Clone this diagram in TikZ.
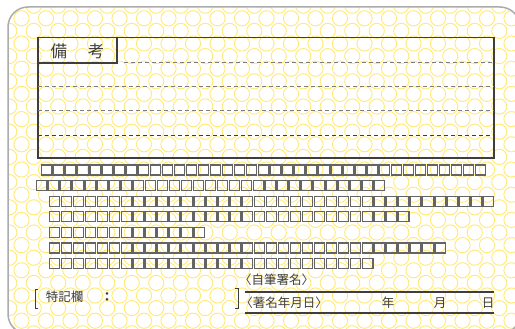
\documentclass[tikz,border=0pt]{standalone}
\usepackage{fontspec}
\usepackage{tikz}
\usetikzlibrary{positioning}
\newfontfamily\jpfont{Noto Sans CJK JP}
\definecolor{ringyellow}{RGB}{255,234,120}
\definecolor{cardgray}{RGB}{172,172,172}
\definecolor{inkgray}{RGB}{62,62,62}
\definecolor{dashgray}{RGB}{125,125,125}
\definecolor{cellgray}{RGB}{100,100,100}

\begin{document}
\begin{tikzpicture}[x=1pt,y=-1pt]
  \tikzstyle{ring}=[draw=ringyellow,line width=0.9pt]
  \tikzstyle{frame}=[draw=inkgray,line width=1.2pt]
  \tikzstyle{dashline}=[draw=dashgray,line width=0.9pt,dash pattern=on 4pt off 3pt]
  \tikzstyle{cell}=[draw=cellgray,line width=1.25pt]
  \tikzstyle{signline}=[draw=inkgray,line width=1.8pt]
  \tikzstyle{txt}=[inner sep=0pt,text=inkgray,font=\jpfont\fontsize{12.5}{14}\selectfont]

  \useasboundingbox (0,0) rectangle (515,329);
  \fill[white] (0,0) rectangle (515,329);

  % card with ring pattern
  \begin{scope}
    \clip[rounded corners=20pt] (8,7) rectangle (520,334);
    \foreach \k in {-1,...,26}
      \foreach \j in {0,...,22}
        \draw[ring] ({-3+12.25*mod(\k+2,2)+24.5*\j},{18.3+12.6*\k}) circle (7.6);
  \end{scope}
  \draw[draw=cardgray,line width=1.5pt,rounded corners=20pt] (8,7) rectangle (520,334);

  % remarks box
  \coordinate (boxnw) at (38,37.5);
  \coordinate (boxse) at (494,158);
  \coordinate (tabse) at (117,63);
  \draw[frame] (boxnw) rectangle (boxse);
  \draw[frame] (boxnw) rectangle (tabse);
  \node[txt,font=\jpfont\fontsize{16.5}{18}\selectfont] (bikou) at (77.5,51.5) {備\hspace{21pt}考};
  \draw[dashline] (124,62.3) -- (494,62.3);
  \draw[dashline] (38,86.7) -- (494,86.7);
  \draw[dashline] (38,110.7) -- (494,110.7);
  \draw[dashline,draw=inkgray] (38,135.7) -- (494,135.7);

  % rows of empty cells
  \foreach \n/\xs [count=\r from 0] in {37/41.7,29/36.7,37/49.3,30/49.3,13/49.3,33/49.3,27/49.3}
    \foreach \i in {1,...,\n}
      \draw[cell] ({\xs+12.05*(\i-1)},{165+15.6*\r}) rectangle ++(10.3,10);

  % special notes
  \draw[inkgray,line width=1pt] (38,289) -- (35,289) -- (35,308) -- (38,308);
  \node[txt] (tokki) at (64.5,297) {特記欄};
  \node[txt,font=\jpfont\bfseries\fontsize{12.5}{14}\selectfont] (colon) at (107,297) {：};
  \draw[inkgray,line width=1pt] (235,288) -- (238,288) -- (238,308) -- (235,308);

  % signature
  \node[txt] (jihitsu) at (276.5,280) {〈自筆署名〉};
  \node[txt] (hiduke) at (284,303) {〈著名年月日〉};
  \node[txt] (nen) at (388,303) {年};
  \node[txt] (tsuki) at (440,303) {月};
  \node[txt] (hi) at (488,303) {日};
  \coordinate (signw) at (245,292);
  \coordinate (signe) at (494,292);
  \coordinate (datew) at (245,313);
  \coordinate (datee) at (494,313);
  \draw[signline] (signw) -- (signe);
  \draw[signline] (datew) -- (datee);
\end{tikzpicture}
\end{document}
